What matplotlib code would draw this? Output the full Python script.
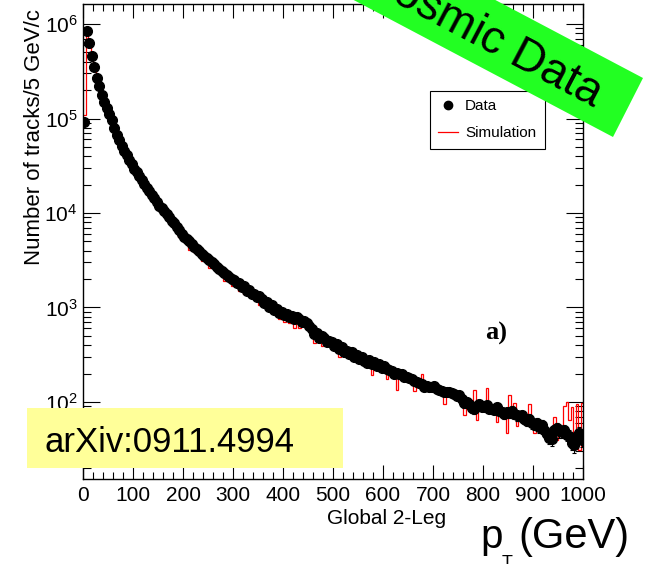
import numpy as np
import matplotlib
matplotlib.use('Agg')
import matplotlib.pyplot as plt
from matplotlib.patches import Polygon, Rectangle
from matplotlib.lines import Line2D
from matplotlib.ticker import MultipleLocator, LogLocator, FuncFormatter, NullFormatter

plt.rcParams['font.family'] = ['Liberation Sans', 'DejaVu Sans']
plt.rcParams['mathtext.fontset'] = 'custom'
plt.rcParams['mathtext.rm'] = 'Liberation Sans'
plt.rcParams['mathtext.it'] = 'Liberation Sans:italic'
plt.rcParams['mathtext.bf'] = 'Liberation Sans:bold'

# ---- data (5 GeV bins, 0-1000 GeV) ----
bin_width = 5
pt_min, pt_max = 0, 1000

data_counts = [
    93000, 850000, 630000, 460000, 350000, 270000, 220000, 178000, 151000, 129000,
    112000, 95500, 79400, 67600, 58900, 51300, 45700, 40700, 36300, 33100,
    29500, 26900, 24500, 22400, 20400, 18600, 17000, 15500, 14500, 13200,
    12000, 11200, 10500, 9770, 9120, 8320, 7760, 7080, 6610, 6030,
    5620, 5250, 5010, 4680, 4370, 4170, 3980, 3720, 3550, 3310,
    3160, 3020, 2880, 2690, 2570, 2450, 2290, 2190, 2090, 2000,
    1960, 1800, 1830, 1650, 1680, 1500, 1530, 1400, 1380, 1280,
    1310, 1230, 1120, 1140, 1010, 1060, 950, 960, 880, 900,
    830, 860, 790, 820, 760, 800, 760, 700, 720, 680,
    640, 590, 520, 540, 480, 500, 470, 430, 445, 430,
    395, 410, 360, 380, 335, 350, 320, 340, 300, 315,
    285, 300, 270, 260, 275, 250, 262, 238, 255, 228,
    240, 224, 219, 214, 200, 204, 200, 198, 186, 182,
    178, 176, 166, 162, 158, 155, 143, 148, 145, 145,
    148, 138, 135, 132, 126, 129, 126, 123, 120, 115,
    118, 107, 97, 100, 95, 86, 84, 91, 96, 89,
    89, 92, 85, 85, 83, 88, 81, 79, 74, 78,
    76, 81, 74, 72, 71, 72, 66, 63, 66, 60,
    58, 60, 54, 57, 51, 46, 42, 41, 50, 53,
    49, 48, 50, 45, 44, 37, 35, 44, 47, 40,
]

sim_counts = [
    110000, 870000, 640000, 450000, 345000, 272000, 218000, 176000, 150000, 128000,
    111000, 95000, 79000, 67000, 58000, 50500, 45000, 40000, 35800, 32500,
    29000, 26400, 24000, 21500, 19800, 17600, 16500, 14800, 14000, 12700,
    11600, 10600, 10100, 9200, 8000, 7700, 7400, 6700, 5600, 5700,
    5300, 4900, 4100, 4350, 3850, 3950, 3750, 3100, 3250, 3150,
    2650, 2800, 2700, 2400, 2450, 2300, 1900, 2050, 1950, 1700,
    1800, 1750, 1500, 1600, 1380, 1450, 1400, 1250, 1300, 1200,
    1050, 1150, 1050, 930, 980, 950, 850, 880, 760, 820,
    700, 790, 680, 740, 600, 740, 610, 690, 650, 640,
    580, 550, 420, 480, 470, 390, 440, 420, 400, 410,
    395, 380, 300, 350, 335, 320, 310, 305, 295, 290,
    285, 275, 255, 260, 250, 195, 240, 235, 230, 225,
    225, 175, 210, 205, 200, 135, 190, 185, 180, 175,
    170, 165, 130, 155, 150, 200, 145, 140, 145, 140,
    135, 150, 130, 128, 95, 125, 135, 120, 118, 110,
    112, 100, 72, 98, 92, 95, 135, 65, 92, 88,
    90, 140, 85, 82, 80, 62, 78, 80, 75, 47,
    118, 75, 98, 55, 70, 68, 65, 62, 95, 58,
    47, 55, 56, 52, 50, 48, 50, 52, 70, 40,
    48, 47, 90, 100, 65, 88, 45, 95, 31, 98,
]

x_ticks = [0, 100, 200, 300, 400, 500, 600, 700, 800, 900, 1000]

edges = np.arange(pt_min, pt_max + bin_width, bin_width)
centers = 0.5 * (edges[:-1] + edges[1:])
data = np.array(data_counts, dtype=float)
sim = np.array(sim_counts, dtype=float)

W, H = 646, 564
fig = plt.figure(figsize=(W / 100, H / 100), dpi=100)
ax = fig.add_axes([83 / W, 1 - 479 / H, 500 / W, 475 / H])

ax.stairs(sim, edges, color='red', lw=0.9, baseline=None, zorder=2)
ax.errorbar(centers, data, yerr=np.sqrt(data), fmt='o', color='black',
            ms=7, elinewidth=0.8, capsize=1.5, capthick=0.8, zorder=3)

ax.set_yscale('log')
ax.set_xlim(pt_min, pt_max)
ax.set_ylim(15.3, 1.63e6)

ax.xaxis.set_minor_locator(MultipleLocator(20))
ax.set_xticks(x_ticks)
ax.set_xticklabels([str(t) for t in x_ticks])
ax.yaxis.set_major_locator(LogLocator(base=10, numticks=20))
ax.yaxis.set_minor_locator(LogLocator(base=10, subs=np.arange(2, 10), numticks=20))
ax.yaxis.set_minor_formatter(NullFormatter())
ax.yaxis.set_major_formatter(FuncFormatter(lambda v, p: r'$10^{%d}$' % int(round(np.log10(v)))))

ax.tick_params(which='both', direction='in', top=True, right=True, color='black')
ax.tick_params(axis='x', which='major', length=10, width=0.8, labelsize=15, pad=5)
ax.tick_params(axis='x', which='minor', length=5, width=0.8)
ax.tick_params(axis='y', which='major', length=12, width=0.8, labelsize=15, pad=4)
ax.tick_params(axis='y', which='minor', length=6, width=0.8)
for s in ax.spines.values():
    s.set_linewidth(1.0)

fig.text(35 / W, 1 - 137 / H, 'Number of tracks/5 GeV/c', rotation=90,
         ha='center', va='center', fontsize=16)
fig.text(387 / W, 1 - 519 / H, 'Global 2-Leg', ha='center', va='center', fontsize=15)

# p_T (GeV)
fig.text(480 / W, 1 - 548 / H, 'p', fontsize=29, va='baseline', ha='left')
fig.text(502 / W, 1 - 555 / H, 'T', fontsize=13, va='top', ha='left')
fig.text(518 / W, 1 - 548 / H, '(GeV)', fontsize=30, va='baseline', ha='left')

# a)
fig.text(496 / W, 1 - 333 / H, 'a)', fontsize=19, fontweight='bold',
         family='Liberation Serif', ha='center', va='center')

# legend
handles = [Line2D([], [], marker='o', color='black', ls='none', ms=6),
           Line2D([], [], color='red', lw=0.9)]
leg = fig.legend(handles, ['Data', 'Simulation'], loc='upper left',
                 bbox_to_anchor=(430 / W, 1 - 91 / H), bbox_transform=fig.transFigure,
                 frameon=True, fancybox=False, edgecolor='black', framealpha=1,
                 fontsize=11, borderpad=0.55, handlelength=1.3, handletextpad=0.45,
                 labelspacing=0.85, borderaxespad=0)
leg.get_frame().set_linewidth(0.8)

# green banner
def fp(x, y):
    return (x / W, 1 - y / H)

d = np.array([0.884, 0.467])
p1 = np.array([613, 137]); p2 = np.array([643, 78])
p3 = p2 - 450 * d; p4 = p1 - 450 * d
banner = Polygon([fp(*p1), fp(*p2), fp(*p3), fp(*p4)], closed=True,
                 transform=fig.transFigure, facecolor='#22ff22', edgecolor='none', zorder=10)
fig.add_artist(banner)
fig.text(483 / W, 1 - 36 / H, 'Cosmic Data', rotation=-27.8, rotation_mode='anchor',
         ha='center', va='center', fontsize=33, zorder=11)

# yellow arXiv box
box = Rectangle(fp(27, 468), 316 / W, 60 / H, transform=fig.transFigure,
                facecolor='#ffff99', edgecolor='none', zorder=10)
fig.add_artist(box)
fig.text(45 / W, 1 - 452 / H, 'arXiv:0911.4994', fontsize=25, va='baseline',
         ha='left', zorder=11)

fig.savefig('out.png', dpi=100)
